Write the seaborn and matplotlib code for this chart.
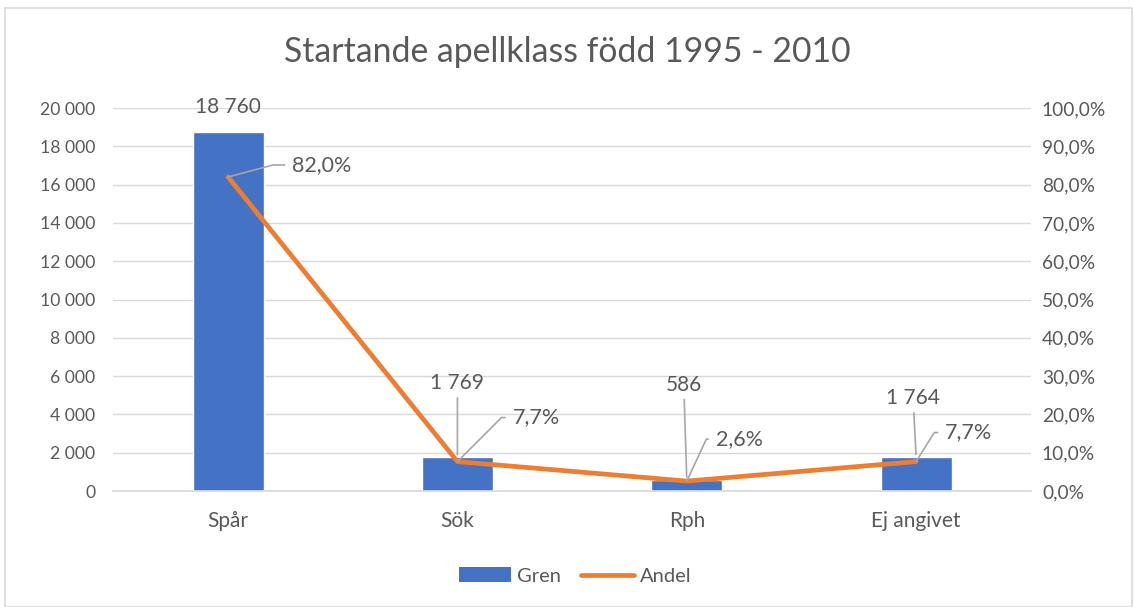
import matplotlib
matplotlib.use('Agg')
import matplotlib.pyplot as plt
import seaborn as sns
import pandas as pd
from matplotlib.patches import Patch, Rectangle
from matplotlib.lines import Line2D

# data
kategorier = ['Spår', 'Sök', 'Rph', 'Ej angivet']
gren = [18760, 1769, 586, 1764]
andel = [82.0, 7.7, 2.6, 7.7]

df = pd.DataFrame({'kategori': kategorier, 'gren': gren, 'andel': andel})

sns.set_theme(style='white')
plt.rcParams['font.family'] = ['Lato', 'DejaVu Sans']

blå = '#4472C4'
orange = '#ED7D31'
grå_text = '#595959'
grå_linje = '#A6A6A6'

fig = plt.figure(figsize=(11.34, 6.07), dpi=100)
ax = fig.add_axes([0.100, 0.191, 0.809, 0.631])

sns.barplot(data=df, x='kategori', y='gren', color=blå, width=0.31,
            saturation=1, ax=ax)
ax.set_xlim(-0.5, 3.5)
ax.set_ylim(0, 20000)
ax.set_yticks(range(0, 20001, 2000))
ax.set_yticklabels([f'{v:,}'.replace(',', ' ') for v in range(0, 20001, 2000)])
ax.grid(axis='y', color='#D9D9D9', linewidth=1)
ax.set_axisbelow(True)
ax.set_xlabel('')
ax.set_ylabel('')
for s in ['top', 'left', 'right']:
    ax.spines[s].set_visible(False)
ax.spines['bottom'].set_color('#D9D9D9')
ax.tick_params(axis='x', length=0, pad=14, labelsize=15, labelcolor=grå_text)
ax.tick_params(axis='y', length=0, pad=13, labelsize=12.7, labelcolor=grå_text)

ax2 = ax.twinx()
sns.lineplot(data=df, x='kategori', y='andel', color=orange, linewidth=3.4,
             sort=False, ax=ax2, solid_capstyle='round')
ax2.set_ylim(0, 100)
ax2.set_yticks(range(0, 101, 10))
ax2.set_yticklabels([f'{v:.1f}%'.replace('.', ',') for v in range(0, 101, 10)])
ax2.set_ylabel('')
for s in ['top', 'left', 'right', 'bottom']:
    ax2.spines[s].set_visible(False)
ax2.tick_params(axis='y', length=0, pad=8, labelsize=13.8, labelcolor=grå_text)
ax2.set_xlim(-0.5, 3.5)

# etiketter för staplar (förskjutning i pixlar)
stapel_offset = [(0, 25), (0, 74), (-3, 95), (-3, 59)]
for i, (v, off) in enumerate(zip(gren, stapel_offset)):
    ledare = None if i == 0 else dict(arrowstyle='-', color=grå_linje, lw=1.2,
                                      shrinkA=1, shrinkB=2)
    ax.annotate(f'{v:,}'.replace(',', ' '), xy=(i, v), xytext=off,
                textcoords='offset pixels', ha='center', va='center',
                fontsize=15, color=grå_text, arrowprops=ledare)

# etiketter för linjen
linje_offset = [(64, 12), (55, 44), (29, 42), (29, 29)]
vinklar = [15, 45, 65, 58]
for i, (v, off, vk) in enumerate(zip(andel, linje_offset, vinklar)):
    ax2.annotate(f'{v:.1f}%'.replace('.', ','), xy=(i, v), xytext=off,
                 textcoords='offset pixels', ha='left', va='center',
                 fontsize=15.5, color=grå_text,
                 arrowprops=dict(arrowstyle='-', color=grå_linje, lw=1.2,
                                 shrinkA=3, shrinkB=0,
                                 connectionstyle=f'angle,angleA=0,angleB={vk},rad=0'))

fig.text(0.5, 0.914, 'Startande apellklass född 1995 - 2010', ha='center',
         va='center', fontsize=24.3, color=grå_text)

handles = [Patch(facecolor=blå, edgecolor='none'),
           Line2D([0], [0], color=orange, linewidth=3.4, solid_capstyle='round')]
fig.legend(handles, ['Gren', 'Andel'], loc='center', bbox_to_anchor=(0.507, 0.051),
           ncol=2, frameon=False, fontsize=14.5, handlelength=2.6,
           handleheight=0.75, columnspacing=1.0, handletextpad=0.3,
           labelcolor=grå_text)

fig.patches.append(Rectangle((0.004, 0.0), 0.994, 0.986, transform=fig.transFigure,
                             fill=False, edgecolor='#D9D9D9', linewidth=1.2))

fig.savefig('out.png', dpi=100, facecolor='white')
